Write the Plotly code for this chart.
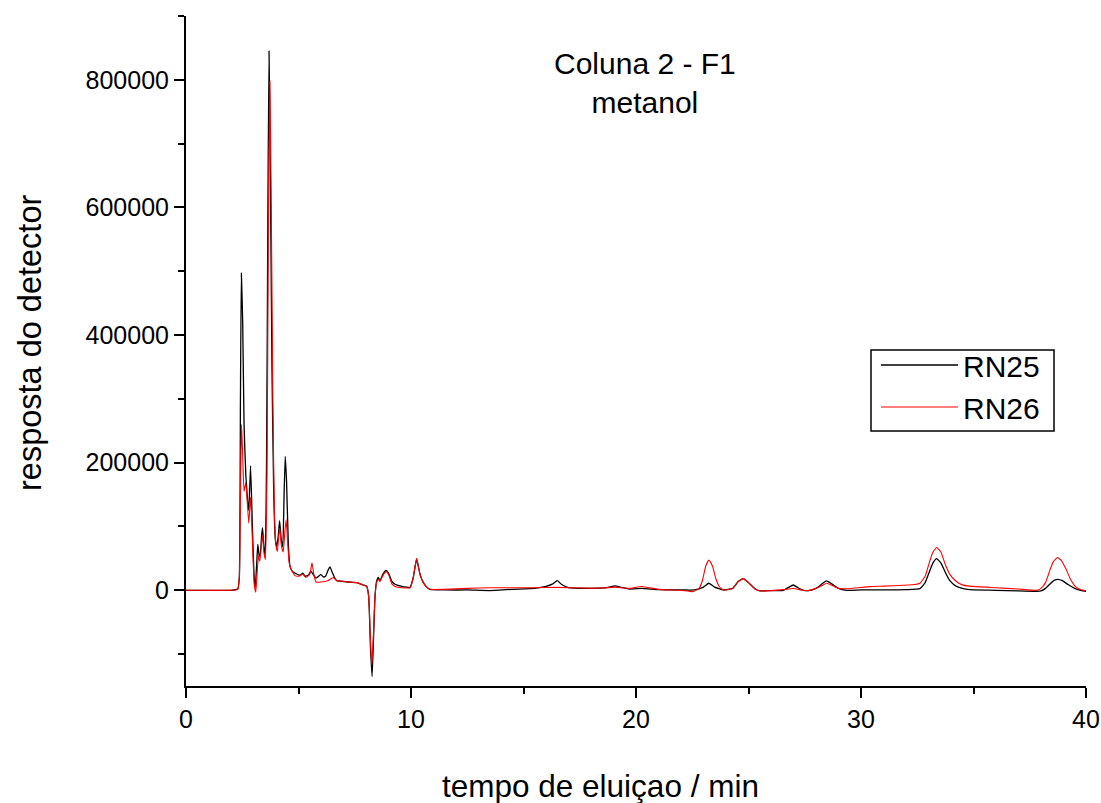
import plotly.graph_objects as go

# RN25 (black)
t_rn25 = [0, 1.0, 2.0, 2.3, 2.37, 2.42, 2.46, 2.52, 2.58, 2.66, 2.74, 2.79, 2.87, 2.95, 3.03, 3.08,
          3.14, 3.19, 3.25, 3.29, 3.36, 3.40, 3.46, 3.52, 3.58, 3.64, 3.69, 3.75, 3.82, 3.90, 3.97,
          4.03, 4.10, 4.16, 4.23, 4.30, 4.36, 4.41, 4.47, 4.55, 4.62, 4.72, 4.84, 5.00, 5.10, 5.19,
          5.30, 5.45, 5.55, 5.65, 5.78, 5.90, 5.99, 6.10, 6.20, 6.32, 6.40, 6.50, 6.60, 6.70, 6.84,
          7.2, 7.59, 7.9, 8.03, 8.12, 8.20, 8.27, 8.33, 8.40, 8.47, 8.55, 8.62, 8.75, 8.89, 9.0,
          9.15, 9.29, 9.6, 9.96, 10.1, 10.25, 10.4, 10.55, 10.7, 10.84, 11.5, 12.5, 13.5, 14.5,
          15.5, 16.0, 16.3, 16.5, 16.7, 17.0, 18.0, 18.7, 19.07, 19.4, 19.73, 20.25, 21.0, 22.0,
          22.6, 23.0, 23.24, 23.5, 23.88, 24.3, 24.55, 24.77, 25.0, 25.3, 25.51, 26.0, 26.55, 26.8,
          26.99, 27.2, 27.45, 27.66, 28.0, 28.3, 28.47, 28.7, 29.0, 29.36, 30.0, 31.0, 32.0, 32.62,
          32.85, 33.05, 33.2, 33.36, 33.55, 33.75, 33.95, 34.2, 34.5, 34.84, 36.0, 37.0, 37.8, 38.0,
          38.2, 38.4, 38.6, 38.75, 38.95, 39.2, 39.5, 39.8, 40.0]
y_rn25 = [0, 0, 0, 2000, 20000, 300000, 497000, 420000, 260000, 180000, 140000, 125000, 195000,
          100000, 20000, 5000, 40000, 72000, 55000, 53000, 85000, 98000, 70000, 52000, 200000,
          600000, 845000, 650000, 350000, 150000, 80000, 68000, 85000, 109000, 80000, 68000,
          150000, 210000, 170000, 70000, 38000, 30000, 27000, 24000, 24000, 27000, 22000, 24000,
          30000, 25000, 19000, 22000, 25000, 21000, 22000, 32000, 36500, 28000, 20000, 15000,
          14500, 13000, 12000, 8000, 6500, -10000, -90000, -135000, -80000, -10000, 14000, 20000,
          15000, 25000, 31000, 27000, 14000, 9500, 6000, 4500, 20000, 49000, 25000, 12000, 5000,
          1500, 500, 500, -500, 1500, 3000, 6000, 10000, 15000, 9000, 4000, 3000, 4000, 7000,
          4000, 2000, 3000, 1000, 500, 500, 5000, 11000, 5000, 500, 3000, 14000, 18300, 12000,
          2000, -1000, -500, 0, 5000, 8300, 4000, 0, -500, 3000, 11000, 14600, 10000, 3000, 0,
          500, 500, 1000, 2500, 12000, 30000, 43000, 49700, 43000, 28000, 15000, 7000, 3000, 1000,
          0, -1000, -1500, -1000, 3000, 10000, 16000, 17200, 15000, 9000, 3000, -500, -1500]

# RN26 (red)
t_rn26 = [0, 2.0, 2.3, 2.37, 2.43, 2.47, 2.52, 2.58, 2.66, 2.72, 2.79, 2.87, 2.95, 3.03, 3.10,
          3.15, 3.22, 3.28, 3.36, 3.40, 3.46, 3.53, 3.60, 3.66, 3.73, 3.79, 3.86, 3.93, 4.0, 4.06,
          4.11, 4.17, 4.24, 4.32, 4.39, 4.45, 4.51, 4.58, 4.65, 4.75, 4.84, 5.00, 5.19, 5.33, 5.50,
          5.60, 5.68, 5.78, 6.0, 6.3, 6.55, 6.7, 6.84, 7.2, 7.59, 7.9, 8.03, 8.12, 8.20, 8.26,
          8.33, 8.40, 8.47, 8.55, 8.62, 8.75, 8.89, 9.0, 9.15, 9.29, 9.6, 9.96, 10.1, 10.25, 10.4,
          10.55, 10.7, 10.84, 11.5, 12.5, 13.5, 14.5, 15.5, 16.5, 17.5, 18.5, 19.07, 19.73, 20.25,
          21.0, 22.0, 22.55, 22.8, 22.95, 23.1, 23.24, 23.4, 23.55, 23.7, 23.88, 24.3, 24.55, 24.77,
          25.0, 25.3, 25.51, 26.0, 26.55, 26.99, 27.4, 27.66, 28.0, 28.3, 28.47, 28.7, 29.0, 29.36,
          30.4, 31.0, 31.88, 32.4, 32.62, 32.85, 33.05, 33.2, 33.36, 33.55, 33.75, 33.95, 34.2,
          34.5, 34.84, 36.0, 37.0, 37.8, 38.0, 38.2, 38.4, 38.55, 38.73, 38.9, 39.1, 39.3, 39.5,
          39.7, 40.0]
y_rn26 = [0, 0, 1500, 20000, 180000, 260000, 210000, 155000, 169000, 140000, 105000, 146000,
          80000, 10000, -3000, 20000, 54000, 45000, 75000, 87000, 60000, 48000, 180000, 550000,
          798000, 600000, 300000, 120000, 70000, 61000, 80000, 97000, 70000, 60000, 90000,
          111000, 80000, 45000, 35000, 28000, 23000, 22000, 25000, 20000, 25000, 43000, 25000,
          13000, 13000, 15000, 20000, 15000, 14500, 13000, 12000, 8000, 6000, -10000, -80000,
          -117000, -70000, -10000, 12000, 17000, 14000, 23000, 29000, 25000, 10000, 6000, 4000,
          4000, 20000, 50000, 25000, 12000, 5000, 1500, 1500, 3000, 4000, 4000, 4000, 4500, 3500,
          3500, 5000, 3000, 6000, 1500, 0, -2000, 3000, 15000, 38000, 47500, 38000, 18000, 6000,
          500, 3000, 14000, 18300, 12000, 2000, -1000, -500, 1000, 2700, 0, -500, 3000, 8000,
          11000, 8000, 3000, 2500, 5800, 6500, 7800, 9000, 11000, 22000, 45000, 60000, 67000,
          60000, 40000, 25000, 15000, 8500, 6500, 4000, 2000, 0, 3000, 12000, 32000, 45000, 51300,
          47000, 34000, 18000, 7000, 2000, -1000]

series_names = ["RN25", "RN26"]
x_tick_vals = [0, 10, 20, 30, 40]
y_tick_vals = [0, 200000, 400000, 600000, 800000]

FONT = "Liberation Sans, Arial, Helvetica, sans-serif"

# plot-area geometry in pixels (used to place annotations in paper coordinates)
L, R, T, B = 186, 1086, 16, 686
def px(xp):
    return (xp - L) / (R - L)
def py(yp):
    return (B - yp) / (B - T)

fig = go.Figure()
fig.add_trace(go.Scatter(x=t_rn25, y=y_rn25, mode="lines", name=series_names[0],
                         line=dict(color="black", width=1.3, shape="spline", smoothing=0.4)))
fig.add_trace(go.Scatter(x=t_rn26, y=y_rn26, mode="lines", name=series_names[1],
                         line=dict(color="#ff0000", width=1.1, shape="spline", smoothing=0.4)))

fig.update_layout(
    width=1101, height=803,
    margin=dict(l=L, r=1101 - R, t=T, b=803 - B),
    paper_bgcolor="white", plot_bgcolor="white",
    font=dict(family=FONT, color="black", size=25),
    showlegend=True,
    legend=dict(x=px(876), y=py(339), xanchor="left", yanchor="top",
                borderwidth=0, bgcolor="rgba(0,0,0,0)",
                font=dict(size=30, family=FONT), itemwidth=77,
                tracegroupgap=0),
    shapes=[dict(type="rect", xref="paper", yref="paper",
                 x0=px(871), x1=px(1054), y0=py(431), y1=py(350),
                 line=dict(color="black", width=1.5), fillcolor="rgba(0,0,0,0)", layer="below")],
    annotations=[
        dict(text="Coluna 2 - F1<br>metanol", x=px(645), y=py(83),
             xref="paper", yref="paper", xanchor="center", yanchor="middle",
             showarrow=False, font=dict(size=30, family=FONT)),
        dict(text="tempo de eluiçao / min", x=px(600), y=py(786),
             xref="paper", yref="paper", xanchor="center", yanchor="middle",
             showarrow=False, font=dict(size=31.5, family=FONT)),
        dict(text="resposta do detector", x=px(30), y=py(343), textangle=-90,
             xref="paper", yref="paper", xanchor="center", yanchor="middle",
             showarrow=False, font=dict(size=32.5, family=FONT)),
    ],
)
fig.update_xaxes(
    range=[0, 40], tickmode="array", tickvals=x_tick_vals, automargin=False,
    ticks="outside", ticklen=10, tickwidth=2, tickcolor="black",
    showline=True, linecolor="black", linewidth=2, showgrid=False, zeroline=False,
    minor=dict(dtick=5, tick0=0, ticks="outside", ticklen=6, tickwidth=2, tickcolor="black", showgrid=False),
    tickfont=dict(size=25),
)
fig.update_yaxes(
    range=[-150000, 900000], tickmode="array", tickvals=y_tick_vals, automargin=False,
    ticktext=[str(v) for v in y_tick_vals],
    ticks="outside", ticklen=10, tickwidth=2, tickcolor="black",
    showline=True, linecolor="black", linewidth=2, showgrid=False, zeroline=False,
    minor=dict(dtick=100000, tick0=0, ticks="outside", ticklen=6, tickwidth=2, tickcolor="black", showgrid=False),
    tickfont=dict(size=25),
)

fig.write_html("out.html")
